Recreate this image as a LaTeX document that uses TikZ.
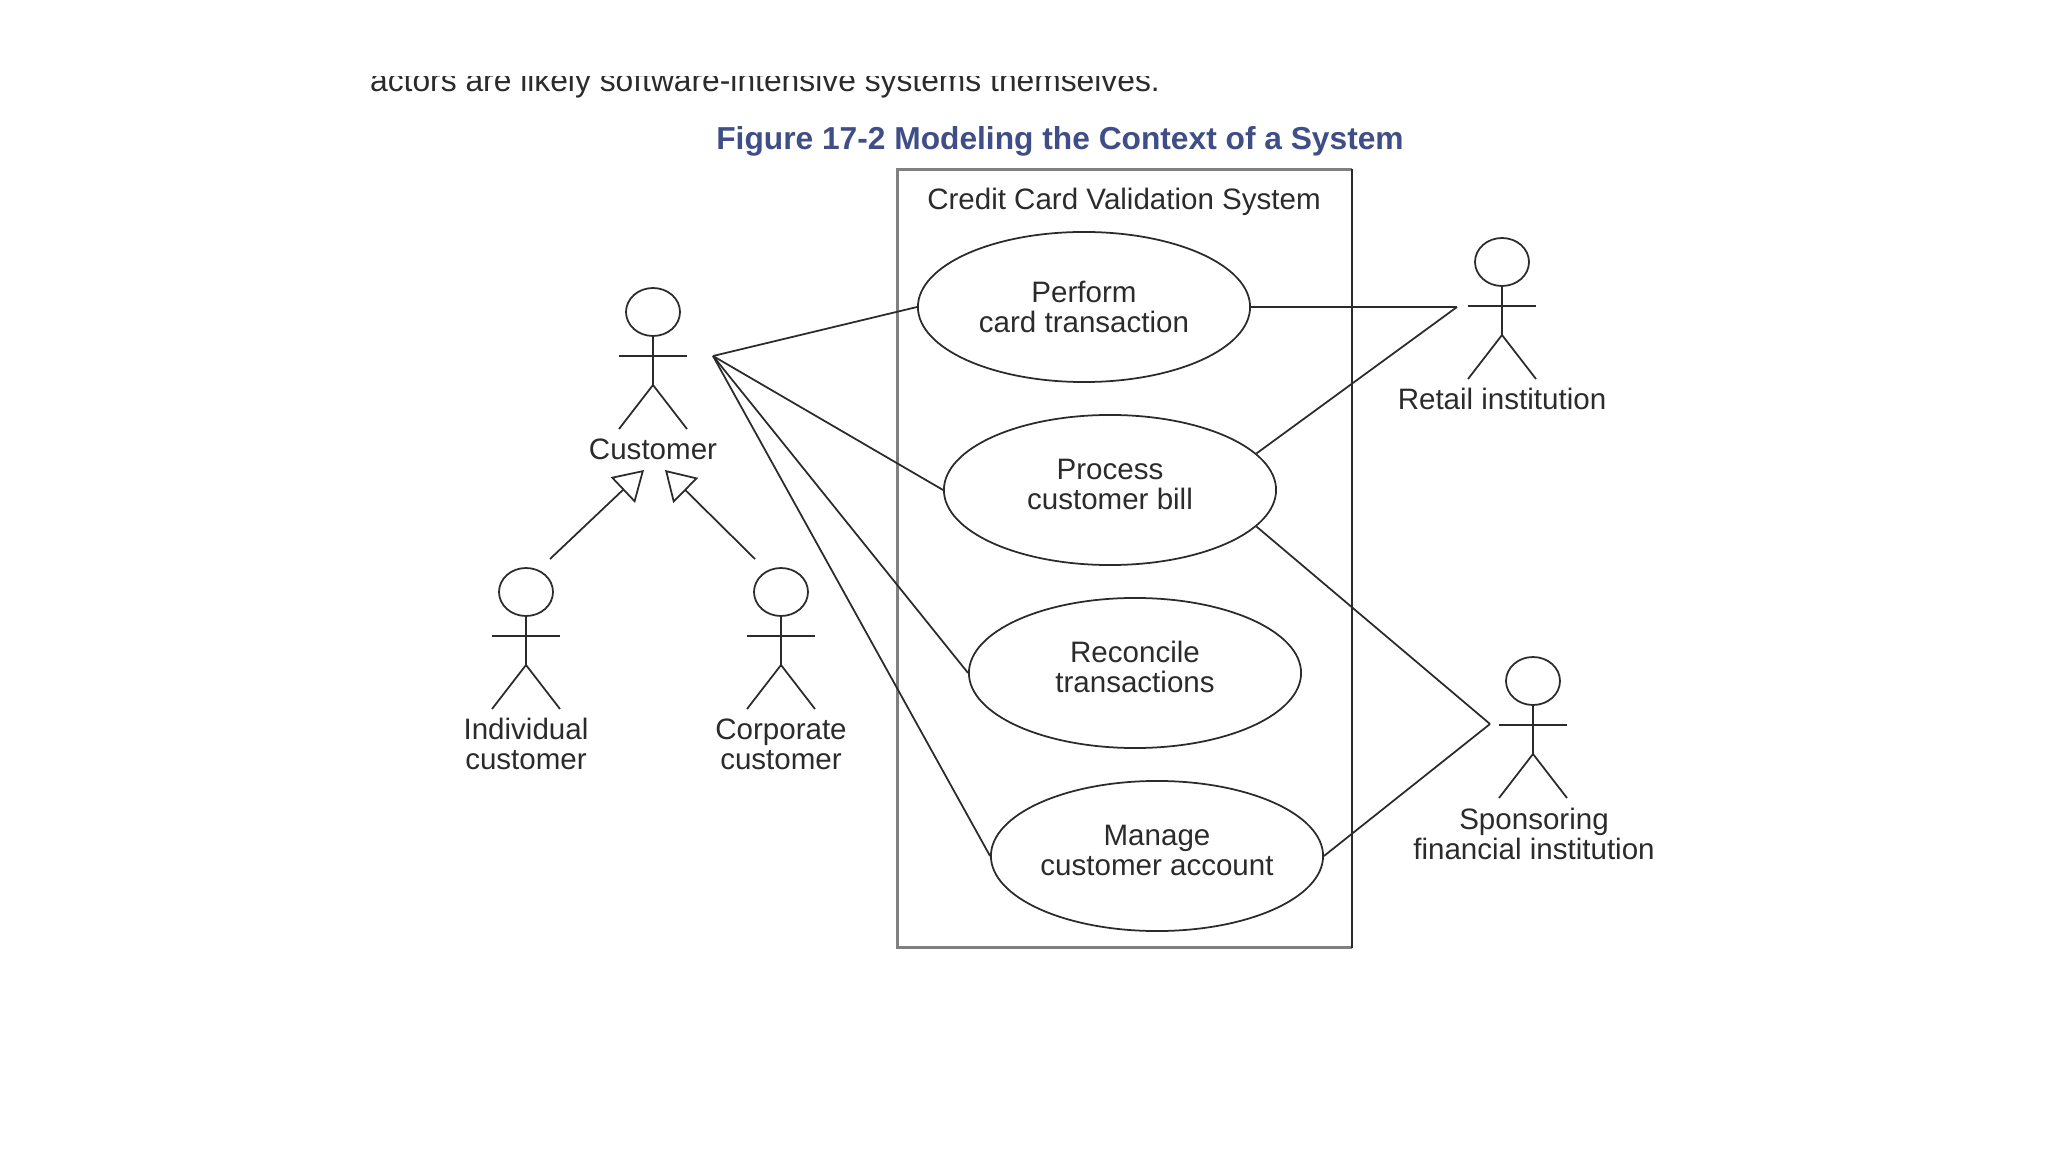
\documentclass[tikz,border=0pt]{standalone}
\usepackage{fontspec}
\setmainfont{Liberation Sans}
\usetikzlibrary{
  arrows.meta,
  positioning,
  shapes.geometric
}
\definecolor{umlInk}{HTML}{2B2B2B}
\definecolor{umlFrame}{HTML}{808080}
\definecolor{umlTitle}{HTML}{3F4E86}
\tikzset{
  umlLine/.style={draw=umlInk, line width=0.5pt},
  useCase/.style={
    ellipse,
    umlLine,
    align=center,
    inner sep=0pt,
    minimum width=332\pxu,
    minimum height=150\pxu,
    font=\umlFont,
    text=umlInk
  },
  actorLabel/.style={
    align=center,
    inner sep=0pt,
    font=\umlFont,
    text=umlInk
  },
  genArrow/.style={umlLine, -{Triangle[open, length=8.3pt, width=10pt]}},
  actorFig/.pic={
    \draw[umlLine] (0,0) ellipse [x radius=27, y radius=24];
    \draw[umlLine] (0,24) -- (0,73);
    \draw[umlLine] (-34,44) -- (34,44);
    \draw[umlLine] (-34,117) -- (0,73) -- (34,117);
  }
}
\newcommand{\pxu}{*0.2845pt}
\newcommand{\umlFont}{\fontsize{8.4}{8.6}\selectfont}
\newcommand{\ucLift}{\\[-5.2pt]\phantom{x}}
\begin{document}
\begin{tikzpicture}[x=0.01cm,y=-0.01cm]
  \useasboundingbox (0,0) rectangle (2048,1152);
  % cut-off line of the page above
  \begin{scope}
    \clip (300,77) rectangle (1300,100);
    \node[font=\fontsize{9.04}{10}\selectfont, text=umlInk, inner sep=0pt, anchor=base] (pageLine) at (765,92)
      {actors are likely software-intensive systems themselves.};
  \end{scope}
  \node[font=\fontsize{9.02}{10}\bfseries\selectfont, text=umlTitle, inner sep=0pt] (figTitle) at (1060,141)
    {Figure 17-2 Modeling the Context of a System};

  % system frame
  \node[minimum width=453\pxu, minimum height=777\pxu, inner sep=0pt]
    (sysFrame) at (1124.5,558.5) {};
  \draw[draw=umlFrame, line width=0.8pt] (sysFrame.south east) -- (sysFrame.south west)
    -- (sysFrame.north west) -- (sysFrame.north east);
  \draw[umlLine] (sysFrame.north east) -- (sysFrame.south east);
  \node[actorLabel] (sysName) at (1124,202) {Credit Card Validation System};

  \node[useCase] (ucPerform) at (1084,307) {Perform\\card transaction};
  \node[useCase] (ucProcess) at (1110,490) {Process\\customer bill\ucLift};
  \node[useCase] (ucReconcile) at (1135,673) {Reconcile\\transactions\ucLift};
  \node[useCase] (ucManage) at (1157,856) {Manage\\customer account\ucLift};

  % actors
  \pic at (653,312) {actorFig};
  \pic at (526,592) {actorFig};
  \pic at (781,592) {actorFig};
  \pic at (1502,262) {actorFig};
  \pic at (1533,681) {actorFig};

  \node[actorLabel] (lblCustomer) at (653,449) {Customer};
  \node[actorLabel] (lblIndividual) at (526,744) {Individual\\customer};
  \node[actorLabel] (lblCorporate) at (781,744) {Corporate\\customer};
  \node[actorLabel] (lblRetail) at (1502,399) {Retail institution};
  \node[actorLabel] (lblSponsor) at (1534,834) {Sponsoring\\financial institution};

  \coordinate (hubCustomer) at (713,356);
  \coordinate (hubRetail) at (1457,307);
  \coordinate (hubSponsor) at (1490,724);
  \coordinate (tipIndividual) at (644,470);
  \coordinate (tipCorporate) at (665,470);
  \coordinate (tailIndividual) at (550,559);
  \coordinate (tailCorporate) at (755,559);

  \foreach \uc in {ucPerform,ucProcess,ucReconcile,ucManage} {
    \draw[umlLine] (hubCustomer) -- (\uc.west);
  }
  \draw[umlLine] (ucPerform.east) -- (hubRetail);
  \draw[umlLine] (ucProcess.14) -- (hubRetail);
  \draw[umlLine] (ucProcess.-14) -- (hubSponsor);
  \draw[umlLine] (ucManage.east) -- (hubSponsor);

  \draw[genArrow] (tailIndividual) -- (tipIndividual);
  \draw[genArrow] (tailCorporate) -- (tipCorporate);
\end{tikzpicture}
\end{document}
